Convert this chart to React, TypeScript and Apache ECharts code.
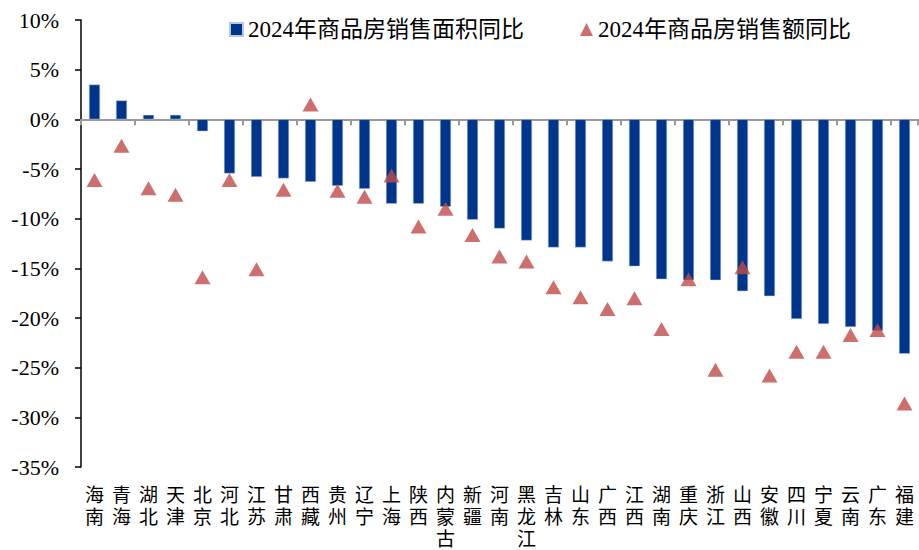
import React, { useEffect, useRef } from "react";
import * as echarts from "echarts";

const categories = ["海南", "青海", "湖北", "天津", "北京", "河北", "江苏", "甘肃", "西藏", "贵州", "辽宁", "上海", "陕西", "内蒙古", "新疆", "河南", "黑龙江", "吉林", "山东", "广西", "江西", "湖南", "重庆", "浙江", "山西", "安徽", "四川", "宁夏", "云南", "广东", "福建"];
const areaYoY = [3.5, 1.9, 0.45, 0.45, -1.2, -5.45, -5.8, -5.95, -6.3, -6.7, -7.0, -8.5, -8.5, -8.8, -10.1, -11.0, -12.2, -12.9, -12.9, -14.3, -14.8, -16.1, -16.2, -16.2, -17.3, -17.8, -20.1, -20.6, -20.9, -21.3, -23.6];
const salesYoY = [-6.1, -2.65, -6.95, -7.6, -15.9, -6.1, -15.1, -7.1, 1.5, -7.2, -7.8, -5.65, -10.8, -9.0, -11.65, -13.8, -14.3, -16.9, -17.9, -19.1, -18.0, -21.1, -16.1, -25.2, -14.9, -25.8, -23.4, -23.4, -21.7, -21.2, -28.6];
const seriesNames = ["2024年商品房销售面积同比", "2024年商品房销售额同比"];

const FONT = "'Liberation Serif', 'Noto Sans CJK SC', serif";

export default function App() {
  const ref = useRef<HTMLDivElement>(null);
  useEffect(() => {
    if (!ref.current) return;
    const chart = echarts.init(ref.current, null, { renderer: "svg" });
    chart.setOption({
      animation: false,
      backgroundColor: "#ffffff",
      legend: {
        left: 224,
        top: 13,
        itemGap: 56,
        itemWidth: 13,
        itemHeight: 13,
        textStyle: { fontFamily: FONT, fontSize: 23, color: "#000" },
        data: [
          { name: seriesNames[0], icon: "rect" },
          { name: seriesNames[1], icon: "triangle" },
        ],
      },
      grid: { left: 81, right: 1, top: 20, bottom: 83, containLabel: false },
      xAxis: [
        {
          type: "category",
          data: categories,
          axisLine: { onZero: true, lineStyle: { color: "#9a9a9a", width: 2 } },
          axisTick: { show: true, length: 6, lineStyle: { color: "#9a9a9a", width: 2 } },
          axisLabel: { show: false },
        },
        {
          type: "category",
          data: categories,
          position: "bottom",
          axisLine: { show: false },
          axisTick: { show: false },
          axisLabel: {
            show: true,
            interval: 0,
            margin: 17,
            fontFamily: FONT,
            fontSize: 19,
            lineHeight: 22,
            color: "#000",
            formatter: (v: string) => v.split("").join("\n"),
          },
        },
      ],
      yAxis: {
        type: "value",
        min: -35,
        max: 10,
        interval: 5,
        splitLine: { show: false },
        axisLine: { show: true, lineStyle: { color: "#000", width: 1.5 } },
        axisTick: { show: true, length: 6, lineStyle: { color: "#000", width: 1.5 } },
        axisLabel: {
          margin: 22,
          fontFamily: FONT,
          fontSize: 22,
          color: "#000",
          formatter: (v: number) => `${v}%`,
        },
      },
      series: [
        {
          name: seriesNames[0],
          type: "bar",
          xAxisIndex: 0,
          data: areaYoY,
          barWidth: 11,
          itemStyle: { color: "#00358C", borderColor: "#b9c7e0", borderWidth: 0.5 },
        },
        {
          name: seriesNames[1],
          type: "scatter",
          xAxisIndex: 0,
          data: salesYoY,
          symbol: "triangle",
          symbolSize: [16, 14],
          itemStyle: { color: "#BF4B48" },
          z: 3,
        },
      ],
    });
    return () => chart.dispose();
  }, []);
  return (
    <div
      ref={ref}
      style={{ position: "absolute", left: 0, top: 0, width: 919, height: 550, background: "#fff" }}
    />
  );
}
